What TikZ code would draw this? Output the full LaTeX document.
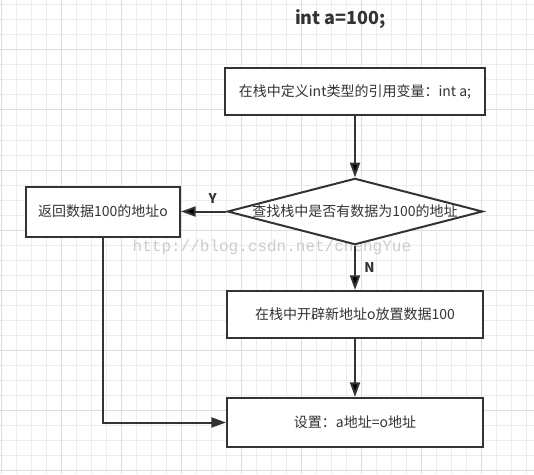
\documentclass[tikz,border=0pt]{standalone}
\usepackage{fontspec}
\setmainfont{Noto Sans CJK SC}
\newfontfamily\markfont{Liberation Mono}
\usetikzlibrary{arrows.meta,shapes.geometric}

\definecolor{ink}{HTML}{333333}
\definecolor{gridminor}{HTML}{EDEDED}
\definecolor{gridmajor}{HTML}{DDDDDD}

\tikzset{
  stepbox/.style={draw=ink, line width=1.5pt, fill=white, text=ink,
    font=\fontsize{10.5}{12}\selectfont, minimum height=35.25pt, inner sep=0pt},
  testbox/.style={diamond, aspect=3.85, draw=ink, line width=1.5pt, fill=white,
    text=ink, font=\fontsize{10.5}{12}\selectfont, inner sep=0pt,
    minimum width=187.5pt, minimum height=48.75pt},
  flow/.style={draw=ink, line width=1.5pt, -{Triangle[length=11pt,width=7.5pt]}},
  answer/.style={font=\bfseries\fontsize{10}{12}\selectfont, text=ink},
}

\begin{document}
\begin{tikzpicture}[x=0.75pt, y=-0.75pt]
  \useasboundingbox (0,0) rectangle (534,474);
  \fill[white] (0,0) rectangle (534,474);
  % grid
  \foreach \gx in {1.7,16.7,...,527} \draw[gridminor, line width=0.75pt] (\gx,0) -- (\gx,474);
  \foreach \gy in {5,20,...,470} \draw[gridminor, line width=0.75pt] (0,\gy) -- (534,\gy);
  \foreach \gx in {1.7,61.7,...,482} \draw[gridmajor, line width=0.75pt] (\gx,0) -- (\gx,474);
  \foreach \gy in {50,110,...,470} \draw[gridmajor, line width=0.75pt] (0,\gy) -- (534,\gy);

  \node[font=\markfont\fontsize{12}{14}\selectfont, text=black!20, anchor=west] (mark)
    at (128,247) {http://blog.csdn.net/chengYue};

  \node[font=\bfseries\fontsize{13.5}{16}\selectfont, text=ink] (title) at (340.5,19) {int a=100;};

  \node[stepbox, minimum width=195pt] (def) at (355,91.5) {在栈中定义int类型的引用变量：int a;};
  \node[testbox] (chk) at (355,211.5) {查找栈中是否有数据为100的地址};
  \node[stepbox, minimum width=115.5pt, minimum height=37.5pt] (ret) at (103,211.5) {返回数据100的地址o};
  \node[stepbox, minimum width=192pt] (new) at (355,314.5) {在栈中开辟新地址o放置数据100};
  \node[stepbox, minimum width=192pt, minimum height=36.75pt] (set) at (355,422.5) {设置：a地址=o地址};

  \path[flow]
  (def) edge (chk)
  (chk) edge node [answer, above=2pt, pos=0.3] {Y} (ret)
        edge node [answer, right=3pt] {N} (new)
  (new) edge (set);
  \draw[flow] (ret) |- (set);
\end{tikzpicture}
\end{document}
